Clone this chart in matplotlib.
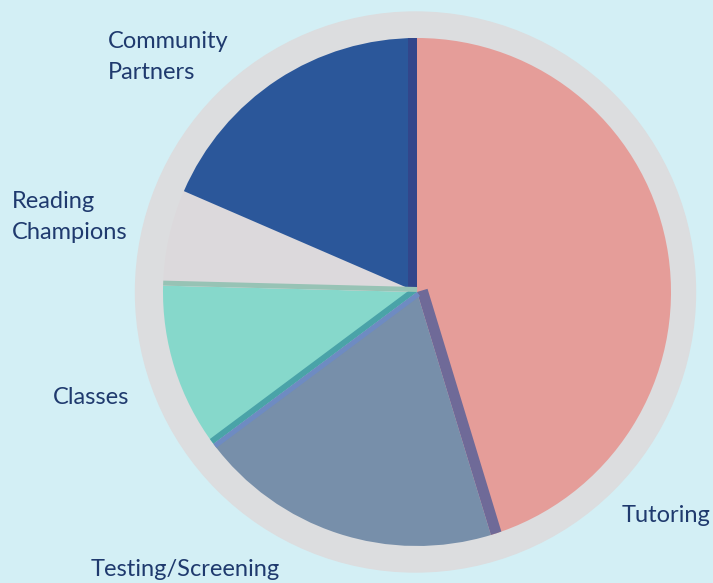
import numpy as np
import matplotlib.pyplot as plt
from matplotlib.patches import Circle, Polygon

labels = ["Tutoring", "Testing/Screening", "Classes", "Reading\nChampions", "Community\nPartners"]
shares = [45.3, 19.5, 10.6, 6.1, 18.5]
colors = ["#e59d99", "#778faa", "#86d8cb", "#dcd9dc", "#2b579a"]
# darker edge strips: (boundary after slice k, side, width px, colour)
edges = [(4, +1, 9, "#32468b"), (0, +1, 11, "#6f6a98"), (1, -1, 6, "#4aa3a8"),
         (1, +1, 5, "#6e8bc2"), (2, -1, 5, "#97c3b5")]

bg = "#d3eff5"
txt = "#1f3a6e"
cx, cy = 417, 291
R = 254
ring = 280

fig = plt.figure(figsize=(7.13, 5.83), dpi=100)
fig.patch.set_facecolor(bg)
ax = fig.add_axes([0, 0, 1, 1])

ax.add_patch(Circle((415.5, cy), ring, color="#dcdddf", zorder=1))
wedges, _ = ax.pie(shares, colors=colors, startangle=90, counterclock=False,
                   center=(cx, cy), radius=R, frame=True,
                   wedgeprops=dict(linewidth=0, zorder=2))
ax.set_xlim(0, 713)
ax.set_ylim(0, 583)
ax.axis("off")

# boundary angles (math degrees), boundary k sits after slice k
bounds = 90 - 360 * np.cumsum(shares) / sum(shares)
clip = Circle((cx, cy), R, transform=ax.transData)
for k, side, w, c in edges:
    th = np.radians(bounds[k])
    d = np.array([np.cos(th), np.sin(th)])
    n = np.array([-np.sin(th), np.cos(th)]) * side * w
    c0 = np.array([cx, cy])
    pts = [c0, c0 + d * (R + 5), c0 + d * (R + 5) + n, c0 + n]
    p = Polygon(pts, closed=True, color=c, lw=0, zorder=3)
    ax.add_patch(p)
    p.set_clip_path(clip)

fs = 17
fam = ["Lato", "DejaVu Sans"]
ax.text(108, 583 - 57, labels[4], color=txt, fontsize=fs, family=fam,
        ha="left", va="center", linespacing=1.55)
ax.text(12, 583 - 217, labels[3], color=txt, fontsize=fs, family=fam,
        ha="left", va="center", linespacing=1.55)
ax.text(53, 583 - 397, labels[2], color=txt, fontsize=fs, family=fam,
        ha="left", va="center")
ax.text(622, 583 - 516, labels[0], color=txt, fontsize=fs, family=fam,
        ha="left", va="center")
ax.text(91, 583 - 570, labels[1], color=txt, fontsize=fs, family=fam,
        ha="left", va="center")

fig.savefig("out.png", dpi=100, facecolor=bg)
